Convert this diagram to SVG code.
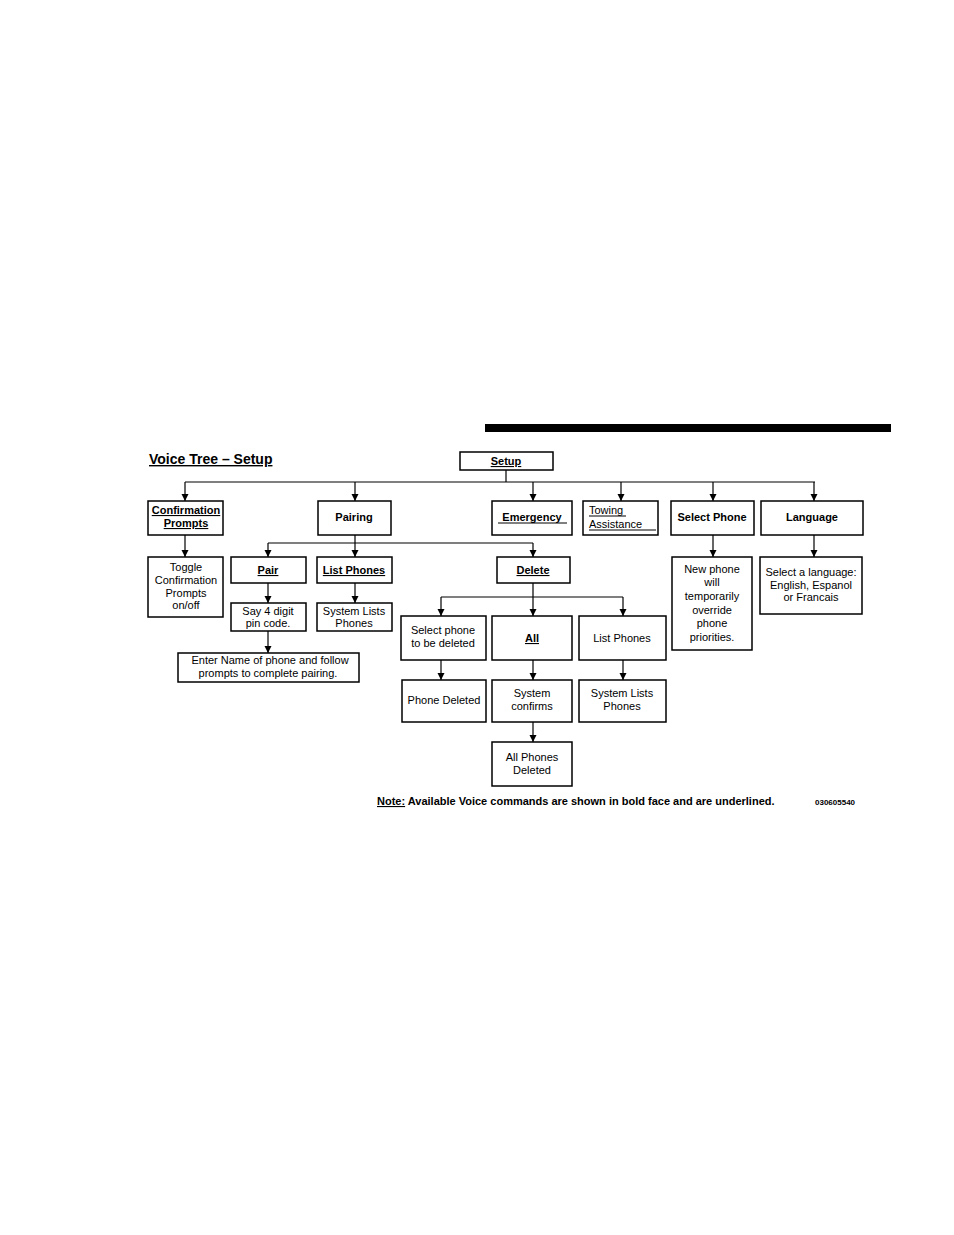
<svg xmlns="http://www.w3.org/2000/svg" width="954" height="1235" viewBox="0 0 954 1235">
<style>
.b{fill:#fff;stroke:#000;stroke-width:1.5}
text{font-family:"Liberation Sans",Arial,sans-serif;font-size:11px;text-anchor:middle;fill:#000}
.k{font-weight:bold}
.u{text-decoration:underline}
.c line,.c path{stroke:#000;stroke-width:1.2;fill:none}
</style>
<defs><marker id="a" viewBox="0 0 10 10" refX="10" refY="5" markerWidth="7" markerHeight="9" orient="auto" markerUnits="userSpaceOnUse"><path d="M0,0L10,5L0,10z" fill="#000"/></marker></defs>
<rect x="485" y="424" width="406" height="8" fill="#000"/>
<text x="149" y="464" class="k u" style="font-size:14px;text-anchor:start">Voice Tree – Setup</text>
<g class="c">
<path d="M506,470V482M185,482H815"/>
<line x1="185" y1="482" x2="185" y2="501" marker-end="url(#a)"/>
<line x1="355" y1="482" x2="355" y2="501" marker-end="url(#a)"/>
<line x1="533" y1="482" x2="533" y2="501" marker-end="url(#a)"/>
<line x1="621" y1="482" x2="621" y2="501" marker-end="url(#a)"/>
<line x1="713" y1="482" x2="713" y2="501" marker-end="url(#a)"/>
<line x1="814" y1="482" x2="814" y2="501" marker-end="url(#a)"/>
<line x1="185" y1="535" x2="185" y2="557" marker-end="url(#a)"/>
<path d="M355,535V543M268,543H533"/>
<line x1="268" y1="543" x2="268" y2="557" marker-end="url(#a)"/>
<line x1="355" y1="543" x2="355" y2="557" marker-end="url(#a)"/>
<line x1="533" y1="543" x2="533" y2="557" marker-end="url(#a)"/>
<line x1="268" y1="583" x2="268" y2="603" marker-end="url(#a)"/>
<line x1="355" y1="583" x2="355" y2="603" marker-end="url(#a)"/>
<line x1="268" y1="631" x2="268" y2="653" marker-end="url(#a)"/>
<path d="M533,583V597M441,597H623"/>
<line x1="441" y1="597" x2="441" y2="616" marker-end="url(#a)"/>
<line x1="533" y1="597" x2="533" y2="616" marker-end="url(#a)"/>
<line x1="623" y1="597" x2="623" y2="616" marker-end="url(#a)"/>
<line x1="441" y1="660" x2="441" y2="680" marker-end="url(#a)"/>
<line x1="533" y1="660" x2="533" y2="680" marker-end="url(#a)"/>
<line x1="623" y1="660" x2="623" y2="680" marker-end="url(#a)"/>
<line x1="533" y1="722" x2="533" y2="742" marker-end="url(#a)"/>
<line x1="713" y1="535" x2="713" y2="557" marker-end="url(#a)"/>
<line x1="814" y1="535" x2="814" y2="557" marker-end="url(#a)"/>
</g>
<g id="setup"><rect class="b" x="460" y="452" width="93" height="18"/><text x="506" y="465" class="k u">Setup</text></g>
<g id="confirm"><rect class="b" x="148" y="501" width="75" height="34"/><text x="186" y="514" class="k u">Confirmation</text><text x="186" y="527" class="k u">Prompts</text></g>
<g id="pairing"><rect class="b" x="318" y="501" width="73" height="34"/><text x="354" y="521" class="k">Pairing</text></g>
<g id="emergency"><rect class="b" x="492" y="501" width="80" height="34"/><text x="532" y="521" class="k">Emergency</text><line x1="498" y1="523" x2="567" y2="523" stroke="#000"/></g>
<g id="towing"><rect class="b" x="583" y="501" width="75" height="34"/><text x="589" y="514" style="text-anchor:start">Towing</text><line x1="589" y1="516" x2="626" y2="516" stroke="#000"/><text x="589" y="528" style="text-anchor:start">Assistance</text><line x1="589" y1="530" x2="656" y2="530" stroke="#000"/></g>
<g id="selectphone"><rect class="b" x="671" y="501" width="83" height="34"/><text x="712" y="521" class="k">Select Phone</text></g>
<g id="language"><rect class="b" x="761" y="501" width="102" height="34"/><text x="812" y="521" class="k">Language</text></g>
<g id="toggle"><rect class="b" x="148" y="557" width="75" height="60"/><text x="186" y="571">Toggle</text><text x="186" y="584">Confirmation</text><text x="186" y="597">Prompts</text><text x="186" y="609">on/off</text></g>
<g id="pair"><rect class="b" x="231" y="557" width="75" height="26"/><text x="268" y="574" class="k u">Pair</text></g>
<g id="listphones1"><rect class="b" x="317" y="557" width="75" height="26"/><text x="354" y="574" class="k u">List Phones</text></g>
<g id="delete"><rect class="b" x="497" y="557" width="73" height="26"/><text x="533" y="574" class="k u">Delete</text></g>
<g id="say"><rect class="b" x="231" y="603" width="75" height="28"/><text x="268" y="615">Say 4 digit</text><text x="268" y="627">pin code.</text></g>
<g id="syslists1"><rect class="b" x="317" y="603" width="75" height="28"/><text x="354" y="615">System Lists</text><text x="354" y="627">Phones</text></g>
<g id="enter"><rect class="b" x="178" y="653" width="181" height="29"/><text x="270" y="664">Enter Name of phone and follow</text><text x="268" y="677">prompts to complete pairing.</text></g>
<g id="selectdel"><rect class="b" x="401" y="616" width="85" height="44"/><text x="443" y="634">Select phone</text><text x="443" y="647">to be deleted</text></g>
<g id="all"><rect class="b" x="492" y="616" width="80" height="44"/><text x="532" y="642" class="k u">All</text></g>
<g id="listphones2"><rect class="b" x="579" y="616" width="87" height="44"/><text x="622" y="642">List Phones</text></g>
<g id="phonedeleted"><rect class="b" x="402" y="680" width="84" height="42"/><text x="444" y="704">Phone Deleted</text></g>
<g id="sysconfirms"><rect class="b" x="492" y="680" width="80" height="42"/><text x="532" y="697">System</text><text x="532" y="710">confirms</text></g>
<g id="syslists2"><rect class="b" x="579" y="680" width="87" height="42"/><text x="622" y="697">System Lists</text><text x="622" y="710">Phones</text></g>
<g id="allphones"><rect class="b" x="492" y="742" width="80" height="44"/><text x="532" y="761">All Phones</text><text x="532" y="774">Deleted</text></g>
<g id="newphone"><rect class="b" x="672" y="557" width="80" height="93"/><text x="712" y="573">New phone</text><text x="712" y="586">will</text><text x="712" y="600">temporarily</text><text x="712" y="614">override</text><text x="712" y="627">phone</text><text x="712" y="641">priorities.</text></g>
<g id="langsel"><rect class="b" x="760" y="557" width="102" height="57"/><text x="811" y="576">Select a language:</text><text x="811" y="589">English, Espanol</text><text x="811" y="601">or Francais</text></g>
<text x="377" y="805" class="k" style="text-anchor:start"><tspan class="u">Note:</tspan> Available Voice commands are shown in bold face and are underlined.</text>
<text x="815" y="805" class="k" style="text-anchor:start;font-size:8px">030605540</text>
</svg>
